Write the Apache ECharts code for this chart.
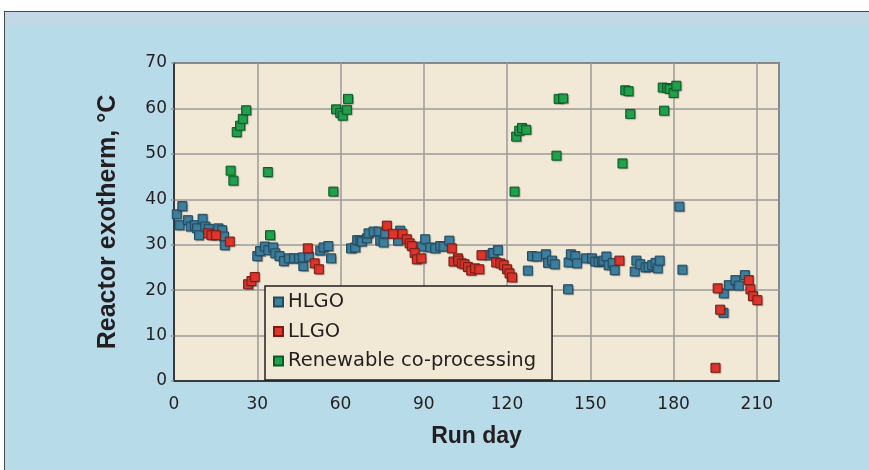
<!DOCTYPE html>
<html><head><meta charset="utf-8">
<script src="https://cdn.jsdelivr.net/npm/echarts@6/dist/echarts.min.js"></script>
<style>
html,body{margin:0;padding:0;background:#fff;overflow:hidden;width:869px;height:470px;}
#frame{position:absolute;left:4px;top:11px;width:880px;height:470px;background:#b8dbea;border-top:1px solid #4a4a4a;border-left:1px solid #4a4a4a;}
#band{position:absolute;left:5px;top:12px;width:880px;height:13px;background:#c3d8e5;}
#chart{position:absolute;left:0;top:0;width:869px;height:470px;}
</style></head><body>
<div id="frame"></div><div id="band"></div><div id="chart"></div>
<script>
// Run day vs reactor exotherm (°C)
const hlgo = [
[1,36.7],[3,38.5],[2,34.3],[5,35.4],[6,34],[7.5,34.3],[8.3,33.6],[9,32.1],[10.3,35.7],[11.3,34],[12.5,33.5],[16,33.6],[17.3,33.2],[18,31.8],[18.3,29.9],
[30,27.5],[31,28.6],[32.7,29.6],[34,28.8],[35.7,29.4],[36.5,28.1],[38,27.5],[39.6,26.4],[41.4,27],[43.2,27],[45,27],[46.6,25.3],[46.4,27.2],[48.6,27.4],[52.7,28.7],[53.9,29.4],[55.6,29.7],[56.6,27],
[63.8,29.2],[65.3,29.4],[66,31],[67.1,30.9],[67.7,30.7],[69.5,31.4],[70.1,32.5],[71.9,32.9],[73.7,32.9],[74.3,30.9],[75.5,30.5],[76.1,32.5],[80.7,30.9],[81.5,33.1],
[89.3,29.6],[90.5,31.2],[92.3,29.4],[94.1,29.2],[95.9,29.7],[97.1,29.6],[99.2,30.9],
[113.4,27.7],[114.8,28.1],[115.1,28.2],[116.7,28.8],[127.5,24.3],[129,27.5],[130.8,27.4],[134,27.9],[134.8,26],[136.2,26.5],[137.2,25.7],
[142,20.2],[142.2,26.1],[143,27.9],[144.6,27.5],[145.2,25.9],[148.5,27],[150.6,27],[151.8,26.3],[153,26.2],[154.2,26.3],[154.8,26.5],[155.8,27.4],[156.6,25.5],[158.1,26],[158.8,24.4],
[166,24.1],[166.6,26.5],[168,25.7],[169.9,25],[171,25.1],[172.3,25.5],[173.5,26],[174.3,24.8],[175,26.5],[182.1,38.4],[183.2,24.5],
[198,15],[198.1,19.3],[199.9,21.1],[202.3,22.2],[203.5,21],[205.7,23.3]
];
const llgo = [
[12.3,32.5],[13.5,32.1],[15.1,32.1],[20.1,30.7],[26.7,21.3],[27.9,22],[29.1,22.9],[48.2,29.2],[50.7,25.9],[52.2,24.6],
[76.7,34.2],[78.9,32.4],[82.3,32.4],[83.9,31.2],[84.9,30.3],[85.7,29.7],[86.7,28.2],[87.5,26.8],[89.1,27],
[100.1,29.2],[100.7,26.3],[102.3,27],[102.5,26.5],[103.7,25.9],[104.7,25.7],[105.9,25.1],[107.1,24.3],[108.5,24.8],[110,24.6],[110.8,27.7],
[116.1,26.1],[117.6,25.9],[118.8,25.5],[120,24.6],[120.9,23.7],[121.8,22.8],
[160.5,26.5],[195.1,2.9],[195.9,20.4],[196.8,15.7],[207.1,22.2],[207.7,20.2],[208.6,18.7],[210.2,17.8]
];
const renewable = [
[20.4,46.3],[21.4,44.1],[22.6,54.8],[23.8,56.2],[24.8,57.7],[26,59.6],[33.8,46],[34.6,32.1],[57.4,41.7],[58.4,59.8],[59.9,59],[60.8,58.4],[62.3,59.7],[62.7,62.1],
[122.7,41.7],[123.3,53.8],[124.4,55.1],[125.4,55.7],[126.9,55.3],[137.8,49.6],[138.6,62.1],[140.2,62.2],[161.6,47.9],[162.6,64],[163.8,63.8],[164.4,58.8],
[176.1,64.6],[176.6,59.5],[177.7,64.5],[178.6,64.3],[180,63.4],[181,65]
];
const seriesNames = ['HLGO', 'LLGO', 'Renewable co-processing'];
const xAxisName = 'Run day';
const yAxisName = 'Reactor exotherm, °C';

const dark = '#231f20';
const gridCol = '#9b9b9b';
const tickFont = 'DejaVu Sans';

function sc(name, data, fill, border) {
  return {
    name: name, type: 'scatter', data: data, symbol: 'rect', symbolSize: 9,
    itemStyle: { color: fill, borderColor: border, borderWidth: 1, opacity: 1,
      shadowColor: 'rgba(60,60,60,0.35)', shadowBlur: 1, shadowOffsetX: 1, shadowOffsetY: 1 },
    emphasis: { disabled: true }, animation: false
  };
}

const chart = echarts.init(document.getElementById('chart'), null, { renderer: 'canvas' });
chart.setOption({
  backgroundColor: 'transparent',
  animation: false,
  grid: { left: 174, right: 90, top: 63, bottom: 89, show: true, backgroundColor: '#f1e8d5',
          borderColor: dark, borderWidth: 1.5 },
  legend: {
    data: seriesNames, orient: 'vertical', left: 265, top: 286,
    padding: [5, 16, 8, 8], itemGap: 7.5, itemWidth: 9, itemHeight: 9,
    backgroundColor: '#f1e8d5', borderColor: dark, borderWidth: 1.5, borderRadius: 0,
    icon: 'rect', selectedMode: false,
    textStyle: { color: dark, fontSize: 19.5, fontFamily: tickFont, lineHeight: 22 }
  },
  xAxis: {
    type: 'value', min: 0, max: 218, interval: 30,
    name: xAxisName, nameLocation: 'middle', nameGap: 44,
    nameTextStyle: { color: dark, fontSize: 23, fontWeight: 'bold', fontFamily: 'Liberation Sans' },
    axisLine: { show: true, lineStyle: { color: dark, width: 1.5 } },
    axisTick: { show: false },
    axisLabel: { color: dark, fontSize: 17, fontFamily: tickFont, margin: 15, showMaxLabel: false },
    splitLine: { show: true, lineStyle: { color: gridCol, width: 1.5 } }
  },
  yAxis: {
    type: 'value', min: 0, max: 70, interval: 10,
    name: yAxisName, nameLocation: 'middle', nameGap: 53, nameRotate: 90,
    nameTextStyle: { color: dark, fontSize: 25, fontWeight: 'bold', fontFamily: 'Liberation Sans' },
    axisLine: { show: true, lineStyle: { color: dark, width: 1.5 } },
    axisTick: { show: true, length: 3, lineStyle: { color: gridCol, width: 1.5 } },
    axisLabel: { color: dark, fontSize: 17, fontFamily: tickFont, margin: 7 },
    splitLine: { show: true, lineStyle: { color: gridCol, width: 1.5 } }
  },
  series: [
    sc(seriesNames[0], hlgo, '#3d7f9f', '#1f4a60'),
    sc(seriesNames[1], llgo, '#e2342a', '#7a1b14'),
    sc(seriesNames[2], renewable, '#1fa34a', '#0b5a28')
  ]
});
</script>
</body></html>
